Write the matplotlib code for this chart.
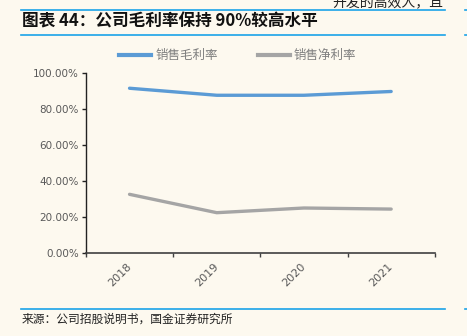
import matplotlib.pyplot as plt
from matplotlib.lines import Line2D

plt.rcParams['font.family'] = ['Noto Sans CJK SC', 'DejaVu Sans']

years = ['2018', '2019', '2020', '2021']
gross_margin = [91.3, 87.4, 87.4, 89.5]
net_margin = [32.4, 22.2, 24.8, 24.2]
series_names = ['销售毛利率', '销售净利率']

bg = '#fdf9ef'
blue = '#5b9bd5'
grey = '#a5a5a5'
accent = '#1aa3e8'

fig = plt.figure(figsize=(4.67, 3.36), dpi=100, facecolor=bg)
ax = fig.add_axes([0.184, 0.248, 0.747, 0.536], facecolor=bg)

x = range(len(years))
ax.plot(x, gross_margin, color=blue, lw=2.4, solid_capstyle='round')
ax.plot(x, net_margin, color=grey, lw=2.4, solid_capstyle='round')

ax.set_ylim(0, 100)
ax.set_yticks(range(0, 101, 20))
ax.set_yticklabels([f'{v}.00%' for v in range(0, 101, 20)], color='#595959', fontsize=7.5,
                   family='DejaVu Sans')
ax.set_xlim(-0.5, len(years) - 0.5)
ax.set_xticks(list(x))
ax.set_xticklabels(years, rotation=45, color='#595959', fontsize=8, family='DejaVu Sans',
                   ha='right', va='center', rotation_mode='anchor')
ax.tick_params(axis='x', length=0, pad=9)
ax.set_xticks([i - 0.5 for i in range(len(years) + 1)], minor=True)
ax.tick_params(axis='x', which='minor', length=3, color='#404040', width=1)
ax.tick_params(axis='y', length=3, width=1, color='#222222', pad=2)
for s in ['top', 'right']:
    ax.spines[s].set_visible(False)
ax.spines['left'].set_color('#222222')
ax.spines['bottom'].set_color('#404040')
ax.spines['left'].set_linewidth(1)
ax.spines['bottom'].set_linewidth(1.2)

handles = [Line2D([], [], color=blue, lw=3), Line2D([], [], color=grey, lw=3)]
fig.legend(handles, series_names, loc='center', bbox_to_anchor=(0.509, 0.835), ncol=2,
           frameon=False, fontsize=9, labelcolor='#7f7f7f', handlelength=2.6,
           handletextpad=0.3, columnspacing=3.2)

# header and footer rules
for yy in [1 - 10 / 336, 1 - 35 / 336, 1 - 309 / 336]:
    fig.add_artist(Line2D([21 / 467, 445 / 467], [yy, yy], color=accent, lw=1.2))
    fig.add_artist(Line2D([465 / 467, 1.0], [yy, yy], color=accent, lw=1.2))

fig.text(22 / 467, 1 - 22 / 336, '图表 44：公司毛利率保持 90%较高水平', fontsize=12,
         fontweight='bold', color='#111111', va='center', ha='left')
fig.text(332 / 467, 1 - 2 / 336, '开发的高效人，且', fontsize=10, color='#222222',
         va='center', ha='left')
fig.text(22 / 467, 1 - 319 / 336, '来源：公司招股说明书，国金证券研究所', fontsize=8.5,
         color='#222222', va='center', ha='left')

fig.savefig('out.png', dpi=100, facecolor=bg)
